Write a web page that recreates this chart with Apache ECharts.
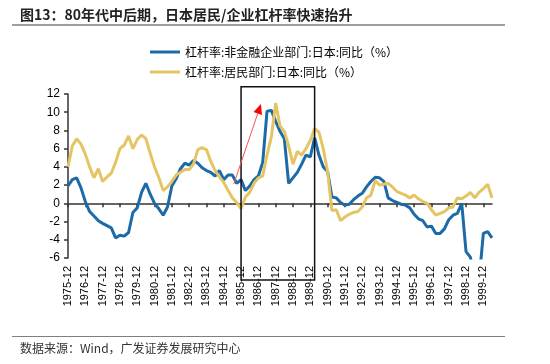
<!DOCTYPE html>
<html><head><meta charset="utf-8">
<script src="https://cdn.jsdelivr.net/npm/echarts@6/dist/echarts.min.js"></script>
<style>html,body{margin:0;padding:0;background:#fff}#c{width:550px;height:364px}</style>
</head><body><div id="c"></div>
<script>
const titleText = '图13：80年代中后期，日本居民/企业杠杆率快速抬升';
const sourceText = '数据来源：Wind，广发证券发展研究中心';
const seriesNames = ['杠杆率:非金融企业部门:日本:同比（%）', '杠杆率:居民部门:日本:同比（%）'];

const categories = [
'1975-12',
'1976-03','1976-06','1976-09','1976-12','1977-03','1977-06','1977-09','1977-12',
'1978-03','1978-06','1978-09','1978-12','1979-03','1979-06','1979-09','1979-12',
'1980-03','1980-06','1980-09','1980-12','1981-03','1981-06','1981-09','1981-12',
'1982-03','1982-06','1982-09','1982-12','1983-03','1983-06','1983-09','1983-12',
'1984-03','1984-06','1984-09','1984-12','1985-03','1985-06','1985-09','1985-12',
'1986-03','1986-06','1986-09','1986-12','1987-03','1987-06','1987-09','1987-12',
'1988-03','1988-06','1988-09','1988-12','1989-03','1989-06','1989-09','1989-12',
'1990-03','1990-06','1990-09','1990-12','1991-03','1991-06','1991-09','1991-12',
'1992-03','1992-06','1992-09','1992-12','1993-03','1993-06','1993-09','1993-12',
'1994-03','1994-06','1994-09','1994-12','1995-03','1995-06','1995-09','1995-12',
'1996-03','1996-06','1996-09','1996-12','1997-03','1997-06','1997-09','1997-12',
'1998-03','1998-06','1998-09','1998-12','1999-03','1999-06','1999-09','1999-12',
'2000-03','2000-06'
];

// 非金融企业部门 (blue)
const corporate = [
1.9, 2.6, 2.8, 1.7, 0.2, -0.9, -1.4, -1.9, -2.2, -2.45,
-2.7, -3.8, -3.5, -3.6, -3.2, -1.0, -0.5, 1.2, 2.2, 1.0,
0.0, -0.6, -1.3, -0.4, 1.9, 2.7, 3.8, 4.4, 4.2, 4.7,
4.4, 3.9, 3.6, 3.4, 3.0, 3.6, 2.6, 3.1, 3.1, 2.2,
2.6, 1.4, 1.9, 2.6, 3.0, 4.5, 10.1, 10.2, 9.0, 7.9,
7.1, 2.2, 2.8, 3.4, 4.3, 5.3, 5.1, 7.2, 5.3, 4.0,
3.5, 0.7, 0.6, 0.1, -0.2, -0.1, 0.4, 0.8, 1.1, 1.8,
2.4, 2.85, 2.8, 2.4, 0.6, 0.3, 0.1, -0.1, -0.2, -0.5,
-1.2, -1.7, -1.9, -2.6, -2.5, -3.3, -3.3, -2.8, -1.8, -1.3,
-1.1, 0.0, -5.3, -5.9, -8.5, -8.5, -3.3, -3.1, -3.8
];

// 居民部门 (yellow)
const household = [
4.0, 6.3, 7.1, 6.5, 5.4, 4.0, 2.8, 3.8, 2.4, 2.9,
3.3, 4.5, 6.0, 6.4, 7.4, 6.0, 7.0, 7.5, 7.1, 5.5,
4.0, 2.8, 1.4, 1.8, 2.4, 3.1, 3.4, 3.7, 3.7, 4.3,
5.9, 6.1, 5.9, 4.6, 3.6, 2.9, 2.3, 1.4, 0.6, 0.1,
-0.6, 0.7, 1.2, 2.2, 2.8, 3.0, 5.3, 7.3, 11.0, 8.5,
7.9, 6.3, 4.3, 5.7, 5.3, 6.0, 6.9, 8.2, 7.8, 6.0,
3.5, -0.8, -0.7, -1.9, -1.5, -1.2, -1.0, -0.9, -0.4, 0.6,
0.9, 2.5, 2.0, 2.1, 2.2, 1.8, 1.3, 1.1, 0.9, 0.6,
0.9, 0.5, 0.2, 0.0, -0.7, -1.3, -1.1, -0.9, -0.5, -0.4,
0.6, 0.5, 0.8, 1.2, 0.6, 1.2, 1.6, 2.1, 0.6
];

const yMin = -6, yMax = 12, yStep = 2;
// highlighted period and arrow (category index, value)
const boxRange = { fromIdx: 40, toIdx: 57, topValue: 12.8 };
const arrowFrom = [38.3, 2.1], arrowTo = [44.6, 10.9];

const BLUE = '#1c6aa8', YELLOW = '#e5c463';
const chart = echarts.init(document.getElementById('c'), null, { renderer: 'canvas' });
const FONT = 'Liberation Sans, Arial, sans-serif';
const CJK = 'Noto Sans CJK SC, sans-serif';

chart.setOption({
  animation: false,
  backgroundColor: '#fff',
  title: {
    text: titleText, left: 20, top: 8, padding: 0,
    textStyle: { fontSize: 14, fontWeight: 'bold', color: '#222', fontFamily: CJK }
  },
  legend: {
    orient: 'vertical', left: 150, top: 46, padding: 0, itemGap: 8,
    icon: 'rect', itemWidth: 30, itemHeight: 3,
    data: seriesNames,
    textStyle: { fontSize: 12, color: '#000', fontFamily: CJK }
  },
  grid: { left: 68, right: 58, top: 94, bottom: 106, containLabel: false },
  xAxis: [
    {
      type: 'category', data: categories, boundaryGap: false,
      axisLine: { onZero: true, lineStyle: { color: '#333', width: 1.5 } },
      axisTick: { show: true, interval: 3, length: 4, lineStyle: { color: '#333', width: 1.5 } },
      axisLabel: { show: false }, splitLine: { show: false }
    },
    {
      type: 'category', data: categories, boundaryGap: false, position: 'bottom',
      axisLine: { show: false, onZero: false }, axisTick: { show: false },
      axisLabel: { interval: 3, rotate: 90, fontSize: 11, color: '#000', fontFamily: FONT, margin: 8 },
      splitLine: { show: false }
    }
  ],
  yAxis: {
    type: 'value', min: yMin, max: yMax, interval: yStep,
    axisLine: { show: true, lineStyle: { color: '#333', width: 1.5 } },
    axisTick: { show: true, length: 4, lineStyle: { color: '#333', width: 1.5 } },
    axisLabel: { fontSize: 12, color: '#000', fontFamily: FONT, margin: 8 },
    splitLine: { show: false }
  },
  series: [
    { name: seriesNames[0], type: 'line', data: corporate, xAxisIndex: 0, symbol: 'none', clip: true,
      itemStyle: { color: BLUE }, lineStyle: { color: BLUE, width: 3 } },
    { name: seriesNames[1], type: 'line', data: household, xAxisIndex: 0, symbol: 'none', clip: true,
      itemStyle: { color: YELLOW }, lineStyle: { color: YELLOW, width: 3 } }
  ]
});

function px(idx) {
  const i0 = Math.floor(idx), i1 = i0 + 1;
  const a = chart.convertToPixel({ xAxisIndex: 0 }, i0);
  const b = chart.convertToPixel({ xAxisIndex: 0 }, i1);
  return a + (b - a) * (idx - i0);
}
function py(v) { return chart.convertToPixel({ yAxisIndex: 0 }, v); }

const bx0 = px(boxRange.fromIdx), bx1 = px(boxRange.toIdx);
const by0 = py(boxRange.topValue), by1 = py(yMin) + 22;
const ax0 = px(arrowFrom[0]), ay0 = py(arrowFrom[1]);
const ax1 = px(arrowTo[0]), ay1 = py(arrowTo[1]);
const dx = ax1 - ax0, dy = ay1 - ay0, len = Math.sqrt(dx * dx + dy * dy);
const ux = dx / len, uy = dy / len, hl = 10, hw = 4.5;
const baseX = ax1 - ux * hl, baseY = ay1 - uy * hl;

chart.setOption({
  graphic: [
    { type: 'line', shape: { x1: 12, y1: 25, x2: 505, y2: 25 }, style: { stroke: '#7f7f7f', lineWidth: 1.5 } },
    { type: 'line', shape: { x1: 12, y1: 336.5, x2: 505, y2: 336.5 }, style: { stroke: '#7f7f7f', lineWidth: 1.2 } },
    { type: 'text', left: 20, top: 342, style: { text: sourceText, fontSize: 12, fill: '#333', fontFamily: CJK } },
    { type: 'rect', shape: { x: bx0, y: by0, width: bx1 - bx0, height: by1 - by0 },
      style: { fill: 'none', stroke: '#111', lineWidth: 1.5 }, z: 100 },
    { type: 'line', shape: { x1: ax0, y1: ay0, x2: baseX, y2: baseY }, style: { stroke: '#ff5050', lineWidth: 1 }, z: 100 },
    { type: 'polygon', shape: { points: [[ax1, ay1], [baseX - uy * hw, baseY + ux * hw], [baseX + uy * hw, baseY - ux * hw]] },
      style: { fill: '#ff0000' }, z: 100 }
  ]
});
</script></body></html>
